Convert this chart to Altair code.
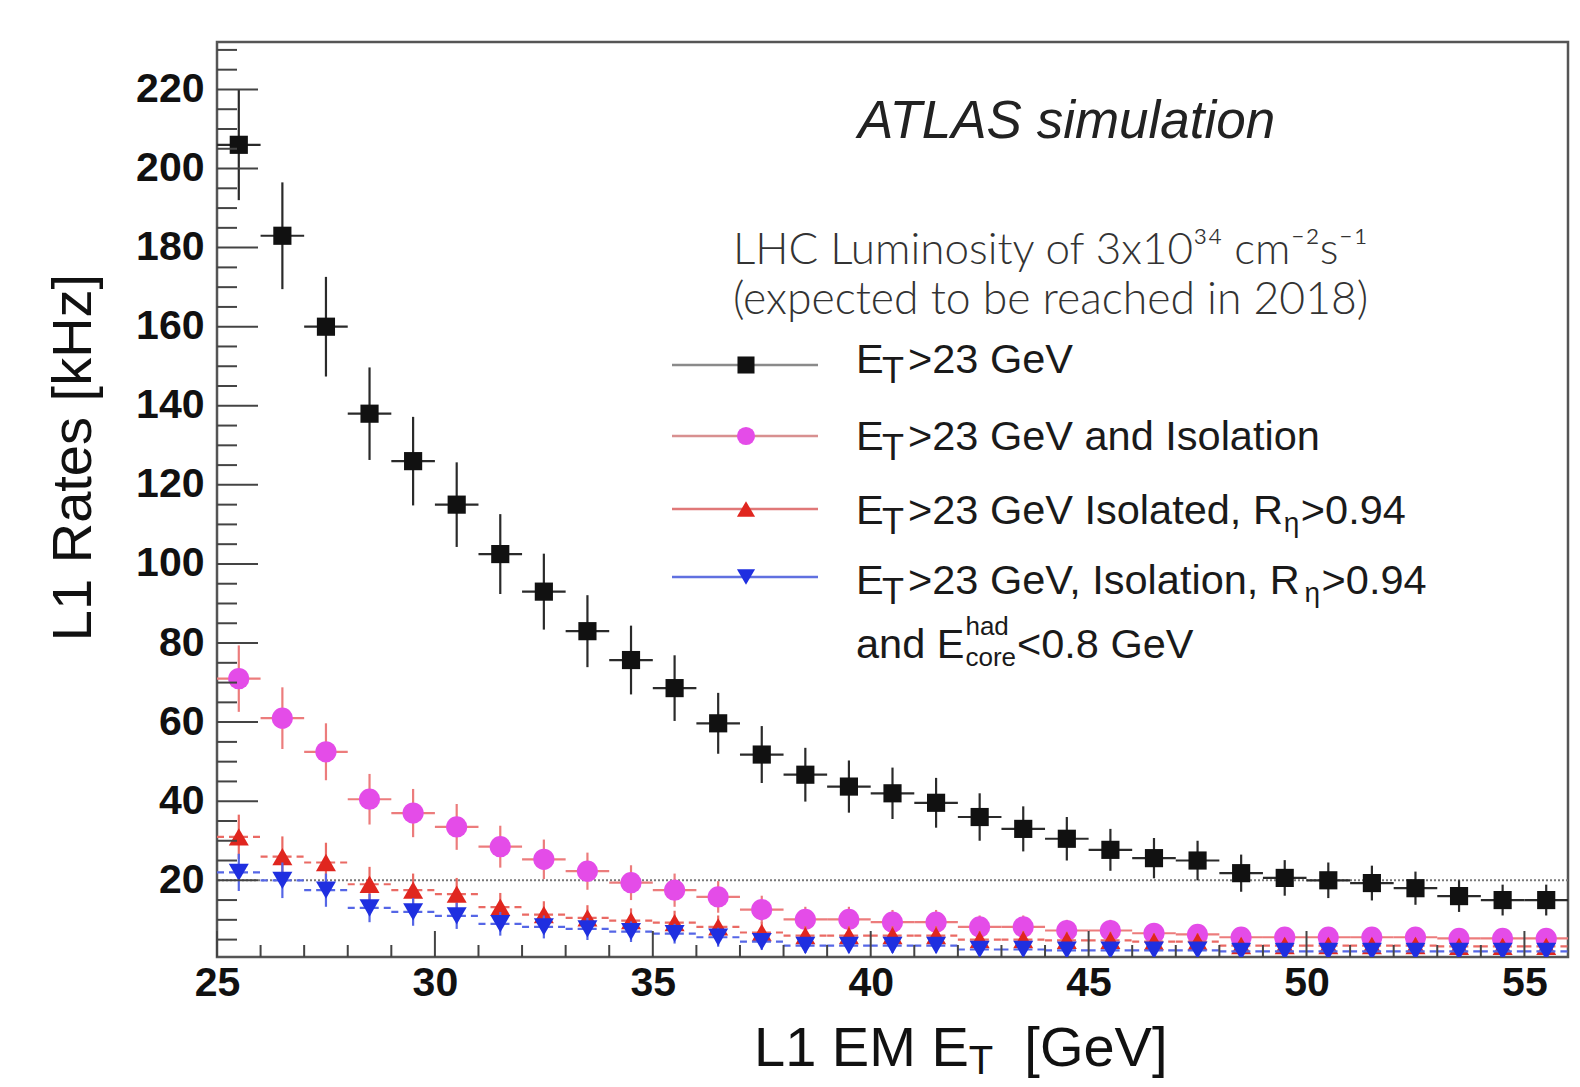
import altair as alt
import pandas as pd

# ---------------- data ----------------
et_bins = [25.5, 26.5, 27.5, 28.5, 29.5, 30.5, 31.5, 32.5, 33.5, 34.5, 35.5,
           36.5, 37.5, 38.5, 39.5, 40.5, 41.5, 42.5, 43.5, 44.5, 45.5, 46.5,
           47.5, 48.5, 49.5, 50.5, 51.5, 52.5, 53.5, 54.5, 55.5]

rate_et23 = [206, 183, 160, 138, 126, 115, 102.5, 93, 83, 75.7, 68.6,
             59.7, 51.8, 46.7, 43.7, 42, 39.6, 36, 33, 30.5, 27.7, 25.6,
             25, 21.8, 20.6, 20, 19.3, 18, 16, 15, 15]
err_et23 = [14, 13.5, 12.6, 11.7, 11.2, 10.7, 10.1, 9.6, 9.1, 8.7, 8.3,
            7.7, 7.2, 6.8, 6.6, 6.5, 6.3, 6, 5.7, 5.5, 5.3, 5.1,
            5, 4.7, 4.5, 4.5, 4.4, 4.2, 4, 3.9, 3.9]

rate_iso = [71, 61, 52.5, 40.5, 37, 33.5, 28.5, 25.3, 22.3, 19.4, 17.5,
            15.8, 12.6, 10.1, 10.1, 9.4, 9.4, 8.2, 8.2, 7.3, 7.3, 6.6,
            6.3, 5.6, 5.6, 5.6, 5.6, 5.6, 5.3, 5.3, 5.3]
err_iso = [8.4, 7.8, 7.2, 6.4, 6.1, 5.8, 5.3, 5, 4.7, 4.4, 4.2,
           4, 3.5, 3.2, 3.2, 3.1, 3.1, 2.9, 2.9, 2.7, 2.7, 2.6,
           2.5, 2.4, 2.4, 2.4, 2.4, 2.4, 2.3, 2.3, 2.3]

rate_iso_reta = [31, 26, 24.5, 19, 17.5, 16.5, 13.2, 11.3, 10.5, 9.8, 9.3,
                 8.2, 6.8, 6, 6, 6, 6, 5, 5, 4.8, 4.8, 4.5,
                 4.5, 3.5, 3.5, 3.5, 3.5, 3.5, 3.3, 3.3, 3.3]
err_iso_reta = [5.6, 5.1, 5, 4.4, 4.2, 4.1, 3.6, 3.4, 3.2, 3.1, 3,
                2.9, 2.6, 2.4, 2.4, 2.4, 2.4, 2.2, 2.2, 2.2, 2.2, 2.1,
                2.1, 1.9, 1.9, 1.9, 1.9, 1.9, 1.8, 1.8, 1.8]

rate_iso_reta_had = [22, 20, 17.5, 13, 12, 11, 9, 8.2, 7.7, 7, 6.5,
                     5.6, 4.5, 3.5, 3.5, 3.5, 3.5, 2.5, 2.5, 2.3, 2.3, 2.3,
                     2.3, 2, 2, 2, 2, 2, 2, 2, 2]
err_iso_reta_had = [4.7, 4.5, 4.2, 3.6, 3.5, 3.3, 3, 2.9, 2.8, 2.6, 2.5,
                    2.4, 2.1, 1.9, 1.9, 1.9, 1.9, 1.6, 1.6, 1.5, 1.5, 1.5,
                    1.5, 1.4, 1.4, 1.4, 1.4, 1.4, 1.4, 1.4, 1.4]

x_tick_labels = [25, 30, 35, 40, 45, 50, 55]
y_tick_labels = [20, 40, 60, 80, 100, 120, 140, 160, 180, 200, 220]
reference_rate = [20]

# ---------------- layout ----------------
W, H = 1351, 915
X0, Y0 = 217, 42          # page position of the plot origin
FONT = "Liberation Sans"

xscale = alt.Scale(domain=[25, 56], nice=False, zero=False)
yscale = alt.Scale(domain=[0.6, 232], nice=False, zero=False)

XAX = alt.Axis(values=x_tick_labels, labelFontSize=41, labelFontWeight="bold",
               labelFont=FONT, labelColor="#111", labelPadding=6,
               ticks=False, tickSize=0, domain=False, grid=False,
               labelFlush=False, labelOverlap=False, title=None)
YAX = alt.Axis(values=y_tick_labels, labelFontSize=41, labelFontWeight="bold",
               labelFont=FONT, labelColor="#111", labelPadding=13,
               ticks=False, tickSize=0, domain=False, grid=False,
               labelFlush=False, labelOverlap=False,
               title="L1 Rates [kHz]", titleFont=FONT, titleFontSize=56,
               titleFontWeight="normal", titleColor="#111",
               titleAngle=270, titleX=-127, titleY=415,
               titleAlign="center", titleBaseline="alphabetic")


def X(field):
    return alt.X(field, scale=xscale, axis=XAX)


def Y(field):
    return alt.Y(field, scale=yscale, axis=YAX)


BLACK, BLACK_BAR = "#111111", "#2a2a2a"
MAG, MAG_BAR = "#e44ce8", "#ec7c7c"
RED, RED_BAR = "#e0261f", "#ea6a64"
BLUE, BLUE_BAR = "#1f2fe0", "#5566e6"


def series_df(rates, errs):
    d = pd.DataFrame({"x": et_bins, "y": rates, "e": errs})
    d["lo"] = d["x"] - 0.5
    d["hi"] = d["x"] + 0.5
    d["ylo"] = d["y"] - d["e"]
    d["yhi"] = d["y"] + d["e"]
    return d


def series_layers(df, shape, fill, size, bar, dashed):
    base = alt.Chart(df)
    hkw = dict(color=bar, strokeWidth=2.2, clip=True)
    if dashed:
        hkw["strokeDash"] = [7, 5]
    hbar = base.mark_rule(**hkw).encode(x=X("lo:Q"), x2="hi:Q", y=Y("y:Q"))
    vbar = base.mark_rule(color=bar, strokeWidth=2.2, clip=True).encode(
        x=X("x:Q"), y=Y("ylo:Q"), y2="yhi:Q")
    pts = base.mark_point(shape=shape, filled=True, size=size, color=fill,
                          opacity=1, clip=True).encode(x=X("x:Q"), y=Y("y:Q"))
    return [hbar, vbar, pts]


layers = []

# dotted reference line at 20 kHz
layers.append(alt.Chart(pd.DataFrame({"v": reference_rate})).mark_rule(
    color="#777", strokeWidth=2, strokeDash=[2, 2]).encode(y=Y("v:Q")))

layers += series_layers(series_df(rate_et23, err_et23), "square", BLACK, 330, BLACK_BAR, False)
layers += series_layers(series_df(rate_iso, err_iso), "circle", MAG, 450, MAG_BAR, False)
layers += series_layers(series_df(rate_iso_reta, err_iso_reta), "triangle-up", RED, 400, RED_BAR, True)
layers += series_layers(series_df(rate_iso_reta_had, err_iso_reta_had), "triangle-down", BLUE, 400, BLUE_BAR, True)

# inward axis ticks (ROOT style)
y_major = [v for v in range(20, 231, 20)]
y_minor = [v for v in range(5, 231, 5) if v % 20 != 0]
x_major = [v for v in range(25, 56, 5)]
x_minor = [v for v in range(26, 56) if v % 5 != 0]
TICK = "#444"
for vals, length in ((y_major, 41), (y_minor, 20)):
    layers.append(alt.Chart(pd.DataFrame({"v": vals})).mark_rule(
        color=TICK, strokeWidth=2).encode(
        y=Y("v:Q"), x=alt.value(0), x2=alt.value(length)))
for vals, length in ((x_major, 26), (x_minor, 12)):
    layers.append(alt.Chart(pd.DataFrame({"v": vals})).mark_rule(
        color=TICK, strokeWidth=2).encode(
        x=X("v:Q"), y=alt.value(H), y2=alt.value(H - length)))


# ---------------- text helpers ----------------
ARIAL = {'E': 667, 'T': 611, '>': 584, '<': 584, '2': 556, '3': 556, ' ': 278,
         'G': 778, 'e': 556, 'V': 667, 'a': 556, 'n': 556, 'd': 556, 'I': 278,
         's': 500, 'o': 556, 'l': 222, 't': 278, 'i': 222, ',': 278, 'R': 722,
         '0': 556, '.': 278, '9': 556, '4': 556, '8': 556, 'c': 500, 'r': 333,
         'h': 556, 'L': 556, '1': 556, 'M': 833, '[': 278, ']': 278}


def tw(s, size):
    return sum(ARIAL.get(c, 556) for c in s) * size / 1000.0


def txt(s, px, py, size, font=FONT, color="#1a1a1a", style="normal", weight="normal"):
    return alt.Chart(pd.DataFrame({"t": [s]})).mark_text(
        align="left", baseline="alphabetic", font=font, fontSize=size,
        fontStyle=style, fontWeight=weight, color=color).encode(
        x=alt.value(px - X0), y=alt.value(py - Y0), text="t:N")


# ATLAS label and luminosity note
layers.append(txt("ATLAS simulation", 858, 138, 53, style="italic", color="#222"))
layers.append(txt("LHC Luminosity of 3x10³⁴ cm⁻²s⁻¹", 733, 264, 44,
                  font="Lato", weight=300, color="#333"))
layers.append(txt("(expected to be reached in 2018)", 733, 314, 44.5,
                  font="Lato", weight=300, color="#333"))

# legend entries
LX = 856
LS = 41.5
legend_rows = [
    (373, ">23 GeV", None),
    (450, ">23 GeV and Isolation", None),
    (524, ">23 GeV Isolated, R", ">0.94"),
    (594, ">23 GeV, Isolation, R", ">0.94"),
]
for base_y, main, tail in legend_rows:
    layers.append(txt("E", LX, base_y, LS))
    layers.append(txt("T", LX + 26, base_y + 10, 36))
    mx = LX + 52
    layers.append(txt(main, mx, base_y, LS))
    if tail:
        ex = mx + tw(main, LS) + 1
        layers.append(txt("η", ex, base_y + 8, 28))
        layers.append(txt(tail, ex + 17, base_y, LS))

r5 = 658
layers.append(txt("and E", LX, r5, LS))
sx = LX + tw("and E", LS) + 1
layers.append(txt("had", sx, r5 - 23, 26))
layers.append(txt("core", sx, r5 + 8, 26))
layers.append(txt("<0.8 GeV", sx + tw("core", 26) + 1, r5, LS))

# legend samples
legend_line_colors = ["#8a8a8a", "#d89090", "#e07878", "#6070e0"]
legend_marks = [("square", BLACK, 290), ("circle", MAG, 330),
                ("triangle-up", RED, 330), ("triangle-down", BLUE, 330)]
legend_ys = [365, 436, 509, 577]
for ly, lc, (shp, col, sz) in zip(legend_ys, legend_line_colors, legend_marks):
    one = alt.Chart(pd.DataFrame({"k": [0]}))
    layers.append(one.mark_rule(color=lc, strokeWidth=2.5).encode(
        x=alt.value(672 - X0), x2=alt.value(818 - X0), y=alt.value(ly - Y0)))
    layers.append(one.mark_point(shape=shp, filled=True, size=sz, color=col,
                                 opacity=1).encode(
        x=alt.value(746 - X0), y=alt.value(ly - Y0)))

# x-axis title with subscript
XT = 754
XB = 1066
layers.append(txt("L1 EM E", XT, XB, 56, color="#111"))
tx = XT + tw("L1 EM E", 56)
layers.append(txt("T", tx, XB + 8, 40, color="#111"))
layers.append(txt("[GeV]", tx + tw("T", 40) + 2 * tw(" ", 56), XB, 56, color="#111"))

chart = alt.layer(*layers).properties(
    width=W, height=H,
    padding={"left": X0 - 8, "top": Y0 - 8, "right": 4, "bottom": 125},
    autosize=alt.AutoSizeParams(type="none"),
    background="white",
).configure_view(stroke="#555", strokeWidth=2.5)

chart.save("out.html", embed_options={"renderer": "svg", "actions": False})
